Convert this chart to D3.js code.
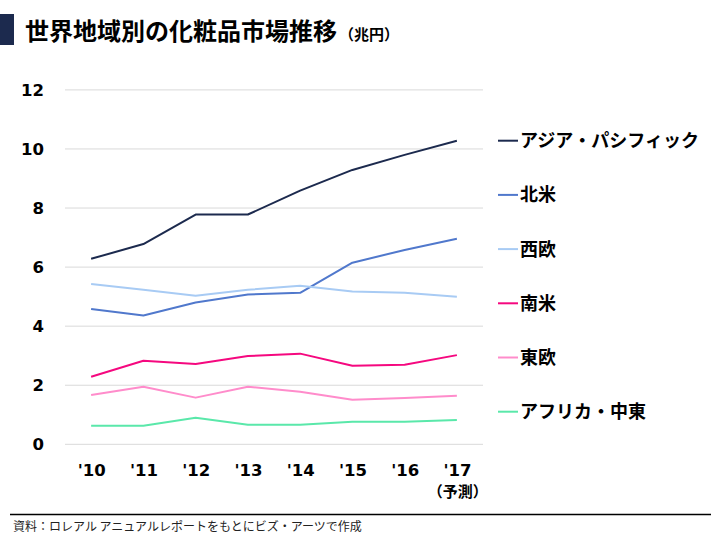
<!DOCTYPE html>
<html><head><meta charset="utf-8">
<script src="https://cdn.jsdelivr.net/npm/d3@7"></script>
<style>
body{margin:0;background:#fff;}
svg{display:block;}
</style></head>
<body>
<svg id="chart" width="720" height="540"></svg>
<script>
const years = ["'10","'11","'12","'13","'14","'15","'16","'17"];
const yTicks = [0,2,4,6,8,10,12];
const seriesNames = ["アジア・パシフィック","北米","西欧","南米","東欧","アフリカ・中東"];
const seriesColors = ["#1c2a4e","#5078cc","#a8cbf4","#f5087f","#ff8ccb","#5ae8aa"];
const asiaPacific = [6.28,6.78,7.78,7.78,8.59,9.29,9.80,10.28];
const northAmerica = [4.58,4.36,4.80,5.07,5.13,6.15,6.58,6.96];
const westEurope = [5.43,5.23,5.03,5.23,5.37,5.17,5.13,5.00];
const southAmerica = [2.29,2.83,2.72,2.99,3.07,2.66,2.69,3.02];
const eastEurope = [1.67,1.95,1.58,1.95,1.78,1.51,1.57,1.64];
const africaME = [0.63,0.63,0.90,0.66,0.66,0.76,0.76,0.82];
const seriesValues = [asiaPacific,northAmerica,westEurope,southAmerica,eastEurope,africaME];

const svg = d3.select("#chart");
const jp = "'Noto Sans CJK JP','Noto Sans',sans-serif";
const num = "'DejaVu Sans',Verdana,sans-serif";

// Title
svg.append("rect").attr("x",0).attr("y",14).attr("width",14).attr("height",31).attr("fill","#1c2a4e");
const title = svg.append("text").attr("x",25).attr("y",40)
  .attr("font-family",jp).attr("font-weight","bold").attr("fill","#000");
title.append("tspan").attr("font-size",24).text("世界地域別の化粧品市場推移");
title.append("tspan").attr("font-size",15).attr("dx",2).text("（兆円）");

const x = d3.scalePoint().domain(years).range([65,483]).padding(0.5);
const y = d3.scaleLinear().domain([0,12]).range([444.3,89.9]);

// gridlines
svg.append("g").selectAll("line").data(yTicks).join("line")
  .attr("x1",65).attr("x2",483)
  .attr("y1",d=>y(d)).attr("y2",d=>y(d))
  .attr("stroke","#d9d9d9").attr("stroke-width",1);

// y axis labels
const yAxis = svg.append("g").attr("transform","translate(44,0)")
  .call(d3.axisLeft(y).tickValues(yTicks).tickSize(0).tickPadding(0));
yAxis.select(".domain").remove();
yAxis.selectAll("text").attr("font-family",num).attr("font-weight","bold")
  .attr("font-size",16.5).attr("fill","#000");

// x axis labels
const xAxis = svg.append("g").attr("transform","translate(0,464.5)")
  .call(d3.axisBottom(x).tickSize(0).tickPadding(0));
xAxis.select(".domain").remove();
xAxis.selectAll("text").attr("font-family",num).attr("font-weight","bold")
  .attr("font-size",16.5).attr("fill","#000").attr("dy","0.71em");
svg.append("text").attr("x",x("'17")+1).attr("y",497).attr("text-anchor","middle")
  .attr("font-family",jp).attr("font-weight","bold").attr("font-size",15).attr("fill","#000")
  .text("（予測）");

// lines
const line = d3.line().x((d,i)=>x(years[i])).y(d=>y(d));
svg.append("g").selectAll("path").data(seriesValues).join("path")
  .attr("d",line).attr("fill","none")
  .attr("stroke",(d,i)=>seriesColors[i]).attr("stroke-width",2)
  .attr("stroke-linejoin","round");

// legend
const legendY = d3.scalePoint().domain(seriesNames).range([140.7,411.7]);
const lg = svg.append("g").selectAll("g").data(seriesNames).join("g")
  .attr("transform",d=>`translate(0,${legendY(d)})`);
lg.append("line").attr("x1",498).attr("x2",518).attr("y1",0).attr("y2",0)
  .attr("stroke",(d,i)=>seriesColors[i]).attr("stroke-width",2);
lg.append("text").attr("x",520).attr("y",6.5).attr("font-family",jp)
  .attr("font-weight","bold").attr("font-size",18).attr("fill","#000").text(d=>d);

// footer
svg.append("line").attr("x1",10).attr("x2",711).attr("y1",514.5).attr("y2",514.5)
  .attr("stroke","#000").attr("stroke-width",1.3);
svg.append("text").attr("x",13).attr("y",531).attr("font-family",jp)
  .attr("font-size",12).attr("fill","#222")
  .text("資料：ロレアル アニュアルレポートをもとにビズ・アーツで作成");
</script>
</body></html>
